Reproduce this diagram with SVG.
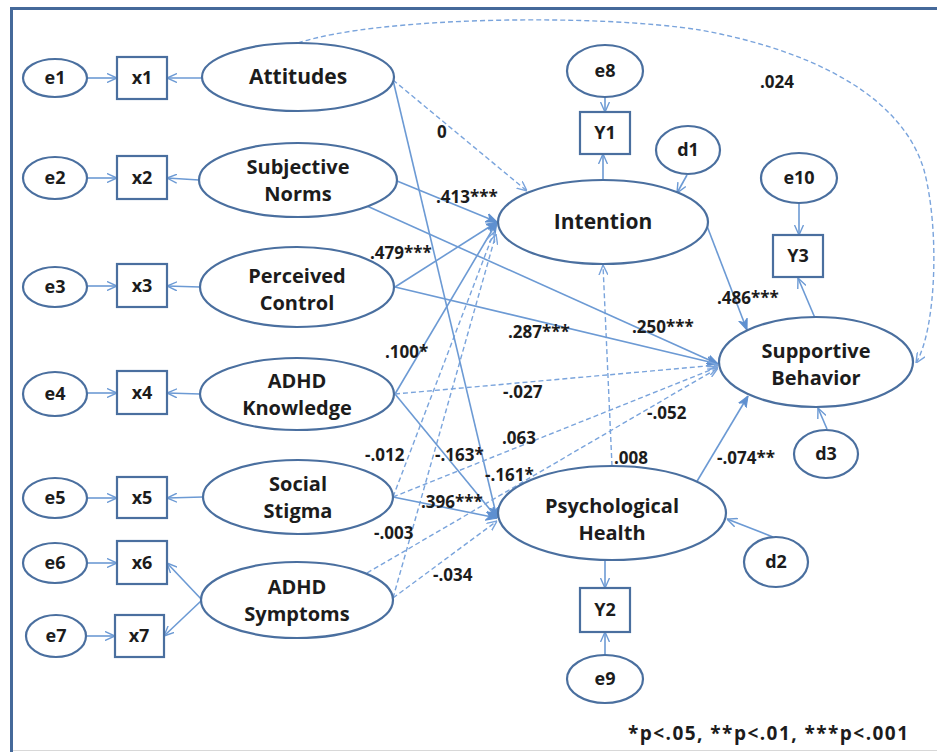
<svg xmlns="http://www.w3.org/2000/svg" width="937" height="752" viewBox="0 0 937 752">
<defs>
<style>
.n{fill:#fff;stroke:#4a6f9f;stroke-width:2.2}
.t{font-family:"Open Sans","Noto Sans",sans-serif;font-weight:bold;fill:#1c1c1c;text-anchor:middle}
.big{font-size:21px}
.two{font-size:20px}
.sm{font-size:18px}
.lb{font-family:"Open Sans","Noto Sans",sans-serif;font-weight:bold;fill:#1c1c1c;font-size:17px}
.c{fill:none;stroke:#6c9ad4;stroke-width:1.6}
.s{marker-end:url(#ao)}
.f{marker-end:url(#af)}
.d{fill:none;stroke:#7aa4dc;stroke-width:1.4;stroke-dasharray:5 3}
</style>
<marker id="ao" viewBox="0 0 10 10" refX="10" refY="5" markerWidth="10" markerHeight="10" markerUnits="userSpaceOnUse" orient="auto">
<path d="M0,0.5 L10,5 L0,9.5" fill="none" stroke="#6c9ad4" stroke-width="1.4"/>
</marker>
<marker id="af" viewBox="0 0 10 10" refX="10" refY="5" markerWidth="11" markerHeight="11" markerUnits="userSpaceOnUse" orient="auto">
<path d="M0,1 L10,5 L0,9 L3,5 Z" fill="#5f90d0" stroke="#5f90d0" stroke-width="1"/>
</marker>
<marker id="ad" viewBox="0 0 10 10" refX="10" refY="5" markerWidth="10" markerHeight="10" markerUnits="userSpaceOnUse" orient="auto">
<path d="M0,0.5 L10,5 L0,9.5" fill="none" stroke="#7aa4dc" stroke-width="1.4"/>
</marker>
</defs>
<rect x="0" y="0" width="937" height="752" fill="#fff"/>
<rect x="11.5" y="8.5" width="960" height="780" fill="none" stroke="#45699a" stroke-width="3"/>
<line x1="13" y1="750.5" x2="937" y2="750.5" stroke="#d8d8d8" stroke-width="1"/>

<g id="connectors">
<line class="c s" x1="87" y1="78" x2="117" y2="78"/>
<line class="c s" x1="87" y1="178" x2="117" y2="178"/>
<line class="c s" x1="87" y1="286" x2="117" y2="286"/>
<line class="c s" x1="87" y1="393" x2="117" y2="393"/>
<line class="c s" x1="87" y1="498" x2="117" y2="498"/>
<line class="c s" x1="87" y1="563" x2="117" y2="563"/>
<line class="c s" x1="85" y1="636" x2="115" y2="636"/>
<line class="c s" x1="202" y1="78" x2="167" y2="78"/>
<line class="c s" x1="199" y1="180" x2="167" y2="178"/>
<line class="c s" x1="200" y1="287" x2="167" y2="286"/>
<line class="c s" x1="200" y1="394" x2="167" y2="393"/>
<line class="c s" x1="203" y1="497" x2="167" y2="498"/>
<line class="c s" x1="202" y1="600" x2="167" y2="563"/>
<line class="c s" x1="202" y1="600" x2="164" y2="636"/>
<line class="c s" x1="603" y1="180" x2="603" y2="154"/>
<line class="c s" x1="605" y1="97" x2="605" y2="112"/>
<line class="c s" x1="687" y1="175" x2="677" y2="193"/>
<line class="c s" x1="799" y1="203" x2="799" y2="235"/>
<line class="c s" x1="815" y1="318" x2="798" y2="278"/>
<line class="c s" x1="827" y1="429" x2="818" y2="408"/>
<line class="c s" x1="605" y1="561" x2="605" y2="588"/>
<line class="c s" x1="605" y1="655" x2="605" y2="632"/>
<line class="c s" x1="773" y1="537" x2="727" y2="519"/>
<line class="d" marker-end="url(#ad)" x1="393" y1="80" x2="527" y2="191"/>
<line class="c f" x1="397" y1="181" x2="497" y2="222"/>
<line class="c f" x1="395" y1="287" x2="497" y2="222"/>
<line class="c f" x1="395" y1="394" x2="497" y2="222"/>
<line class="d" marker-end="url(#ad)" x1="393" y1="497" x2="494" y2="232"/>
<line class="d" marker-end="url(#ad)" x1="393" y1="598" x2="496" y2="234"/>
<line class="d" marker-end="url(#ad)" x1="612" y1="466" x2="603" y2="265"/>
<line class="c f" x1="393" y1="80" x2="497" y2="518"/>
<line class="c f" x1="395" y1="394" x2="497" y2="518"/>
<line class="c f" x1="393" y1="497" x2="497" y2="518"/>
<line class="d" marker-end="url(#ad)" x1="393" y1="598" x2="497" y2="521"/>
<line class="c f" x1="367" y1="206" x2="718" y2="364"/>
<line class="c f" x1="395" y1="287" x2="718" y2="364"/>
<line class="d" marker-end="url(#ad)" x1="395" y1="394" x2="718" y2="365"/>
<line class="d" marker-end="url(#ad)" x1="393" y1="497" x2="718" y2="367"/>
<line class="d" marker-end="url(#ad)" x1="367" y1="573" x2="718" y2="368"/>
<line class="c f" x1="707" y1="226" x2="747" y2="330"/>
<line class="c f" x1="693" y1="488" x2="748" y2="396"/>
<path class="d" marker-end="url(#ad)" d="M298,43 C380,16 600,14 700,30 C800,48 900,90 924,170 C940,230 936,330 916,363"/>
</g>

<g id="e1"><ellipse class="n" cx="55" cy="78" rx="32" ry="19"/><text class="t sm" x="55" y="84">e1</text></g>
<g id="e2"><ellipse class="n" cx="55" cy="178" rx="32" ry="21"/><text class="t sm" x="55" y="184">e2</text></g>
<g id="e3"><ellipse class="n" cx="55" cy="287" rx="32" ry="20"/><text class="t sm" x="55" y="293">e3</text></g>
<g id="e4"><ellipse class="n" cx="55" cy="394" rx="32" ry="22"/><text class="t sm" x="55" y="400">e4</text></g>
<g id="e5"><ellipse class="n" cx="55" cy="498" rx="32" ry="20"/><text class="t sm" x="55" y="504">e5</text></g>
<g id="e6"><ellipse class="n" cx="55" cy="563" rx="32" ry="20"/><text class="t sm" x="55" y="569">e6</text></g>
<g id="e7"><ellipse class="n" cx="56" cy="636" rx="30" ry="21"/><text class="t sm" x="56" y="642">e7</text></g>

<g id="x1"><rect class="n" x="117" y="57" width="50" height="42"/><text class="t sm" x="142" y="84">x1</text></g>
<g id="x2"><rect class="n" x="117" y="156" width="50" height="43"/><text class="t sm" x="142" y="184">x2</text></g>
<g id="x3"><rect class="n" x="117" y="264" width="50" height="43"/><text class="t sm" x="142" y="292">x3</text></g>
<g id="x4"><rect class="n" x="117" y="371" width="50" height="43"/><text class="t sm" x="142" y="399">x4</text></g>
<g id="x5"><rect class="n" x="117" y="477" width="50" height="41"/><text class="t sm" x="142" y="504">x5</text></g>
<g id="x6"><rect class="n" x="117" y="541" width="50" height="43"/><text class="t sm" x="142" y="569">x6</text></g>
<g id="x7"><rect class="n" x="115" y="615" width="49" height="42"/><text class="t sm" x="139" y="642">x7</text></g>

<g id="attitudes"><ellipse class="n" cx="298" cy="77" rx="96" ry="34"/><text class="t big" x="298" y="84">Attitudes</text></g>
<g id="subjective-norms"><ellipse class="n" cx="298" cy="180" rx="99" ry="37"/><text class="t two" x="298" y="174">Subjective</text><text class="t two" x="298" y="201">Norms</text></g>
<g id="perceived-control"><ellipse class="n" cx="297" cy="287" rx="97" ry="40"/><text class="t two" x="297" y="283">Perceived</text><text class="t two" x="297" y="310">Control</text></g>
<g id="adhd-knowledge"><ellipse class="n" cx="297" cy="394" rx="97" ry="36"/><text class="t two" x="297" y="388">ADHD</text><text class="t two" x="297" y="415">Knowledge</text></g>
<g id="social-stigma"><ellipse class="n" cx="298" cy="497" rx="95" ry="37"/><text class="t two" x="298" y="491">Social</text><text class="t two" x="298" y="518">Stigma</text></g>
<g id="adhd-symptoms"><ellipse class="n" cx="297" cy="600" rx="96" ry="38"/><text class="t two" x="297" y="594">ADHD</text><text class="t two" x="297" y="621">Symptoms</text></g>

<g id="e8"><ellipse class="n" cx="605" cy="71" rx="38" ry="26"/><text class="t sm" x="605" y="77">e8</text></g>
<g id="Y1"><rect class="n" x="580" y="112" width="50" height="42"/><text class="t sm" x="605" y="139">Y1</text></g>
<g id="d1"><ellipse class="n" cx="688" cy="150" rx="32" ry="24"/><text class="t sm" x="688" y="156">d1</text></g>
<g id="intention"><ellipse class="n" cx="603" cy="222" rx="105" ry="42"/><text class="t big" x="603" y="229">Intention</text></g>
<g id="e10"><ellipse class="n" cx="799" cy="178" rx="38" ry="25"/><text class="t sm" x="799" y="184">e10</text></g>
<g id="Y3"><rect class="n" x="773" y="235" width="50" height="42"/><text class="t sm" x="798" y="262">Y3</text></g>
<g id="supportive-behavior"><ellipse class="n" cx="816" cy="362" rx="97" ry="45"/><text class="t two" x="816" y="358">Supportive</text><text class="t two" x="816" y="385">Behavior</text></g>
<g id="d3"><ellipse class="n" cx="826" cy="454" rx="32" ry="24"/><text class="t sm" x="826" y="460">d3</text></g>
<g id="psychological-health"><ellipse class="n" cx="612" cy="513" rx="114" ry="47"/><text class="t two" x="612" y="513">Psychological</text><text class="t two" x="612" y="540">Health</text></g>
<g id="d2"><ellipse class="n" cx="776" cy="562" rx="32" ry="25"/><text class="t sm" x="776" y="568">d2</text></g>
<g id="Y2"><rect class="n" x="580" y="588" width="50" height="44"/><text class="t sm" x="605" y="616">Y2</text></g>
<g id="e9"><ellipse class="n" cx="605" cy="679" rx="38" ry="24"/><text class="t sm" x="605" y="685">e9</text></g>

<g id="labels">
<text class="lb" x="437" y="138">0</text>
<text class="lb" x="760" y="88">.024</text>
<text class="lb" x="436" y="203">.413***</text>
<text class="lb" x="370" y="259">.479***</text>
<text class="lb" x="385" y="358">.100*</text>
<text class="lb" x="717" y="304">.486***</text>
<text class="lb" x="632" y="333">.250***</text>
<text class="lb" x="508" y="338">.287***</text>
<text class="lb" x="503" y="398">-.027</text>
<text class="lb" x="647" y="419">-.052</text>
<text class="lb" x="502" y="444">.063</text>
<text class="lb" x="365" y="461">-.012</text>
<text class="lb" x="435" y="461">-.163*</text>
<text class="lb" x="614" y="464">.008</text>
<text class="lb" x="717" y="464">-.074**</text>
<text class="lb" x="485" y="481">-.161*</text>
<text class="lb" x="421" y="508">.396***</text>
<text class="lb" x="374" y="539">-.003</text>
<text class="lb" x="433" y="581">-.034</text>
<text class="lb" x="628" y="740" style="font-size:19px" textLength="280" lengthAdjust="spacing">*p&lt;.05, **p&lt;.01, ***p&lt;.001</text>
</g>
</svg>
